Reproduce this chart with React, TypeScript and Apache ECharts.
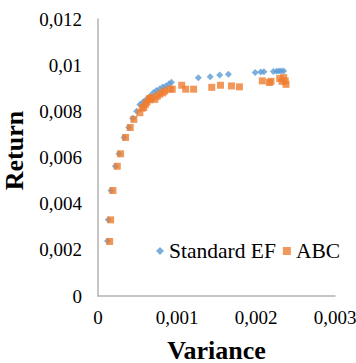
import React, { useEffect, useRef } from "react";
import * as echarts from "echarts";

const xTicks = [0, 0.001, 0.002, 0.003];
const yTicks = [0, 0.002, 0.004, 0.006, 0.008, 0.01, 0.012];

const efVariance = [
  0.00012, 0.00013, 0.000165, 0.00022, 0.000265, 0.00033, 0.00039, 0.00044, 0.00049,
  0.00053, 0.00057, 0.00061, 0.00066, 0.0007, 0.00074, 0.00078, 0.00082, 0.00086, 0.0009,
  0.00093, 0.00127, 0.00142, 0.00154, 0.00165, 0.00199, 0.00206, 0.0021, 0.00222, 0.00226,
  0.00229, 0.00232, 0.00235,
];
const efReturn = [
  0.00238, 0.0033, 0.00457, 0.00562, 0.00616, 0.00687, 0.0073, 0.0077, 0.008,
  0.0083, 0.0084, 0.0085, 0.00865, 0.0088, 0.0089, 0.00897, 0.00905, 0.0091, 0.0092,
  0.00926, 0.00946, 0.0095, 0.00957, 0.00961, 0.00968, 0.0097, 0.00971, 0.00973, 0.00974,
  0.00975, 0.00975, 0.00975,
];

const abcVariance = [
  0.000148, 0.00016, 0.000189, 0.000244, 0.000286, 0.000349, 0.000408, 0.000454, 0.00053, 0.00056,
  0.00058, 0.0006, 0.00062, 0.00065, 0.00066, 0.00068, 0.00072, 0.00075, 0.00078, 0.00082,
  0.000845, 0.00091, 0.00094, 0.00106, 0.00111, 0.00121, 0.00144, 0.00155, 0.00169, 0.00179,
  0.00208, 0.00217, 0.00219, 0.0023, 0.00233, 0.00235, 0.00237, 0.00238,
];
const abcReturn = [
  0.00236, 0.0033, 0.00457, 0.00562, 0.00616, 0.00687, 0.0073, 0.00765, 0.00794, 0.00814,
  0.00817, 0.0083, 0.0084, 0.00855, 0.0085, 0.0086, 0.00852, 0.00865, 0.00874, 0.0088,
  0.00888, 0.00896, 0.00896, 0.00913, 0.00896, 0.00896, 0.00904, 0.00913, 0.0091, 0.00906,
  0.00932, 0.00925, 0.0093, 0.00942, 0.0093, 0.00946, 0.00932, 0.00917,
];

const FONT = "Liberation Serif";

const fmt = (v: number) =>
  v === 0 ? "0" : String(parseFloat(v.toFixed(6))).replace(".", ",");

export default function App() {
  const ref = useRef<HTMLDivElement>(null);
  useEffect(() => {
    if (!ref.current) return;
    const chart = echarts.init(ref.current, null, { renderer: "svg", width: 356, height: 363 });
    chart.setOption({
      animation: false,
      backgroundColor: "#fff",
      grid: { left: 98, right: 21, top: 19, bottom: 67, outerBoundsMode: "none", containLabel: false },
      legend: {
        left: 151,
        top: 235,
        itemWidth: 8,
        itemHeight: 8,
        itemGap: 7,
        textStyle: { fontFamily: FONT, fontSize: 21.5, color: "#000" },
        data: [
          { name: "Standard EF", icon: "diamond" },
          { name: "ABC", icon: "rect" },
        ],
      },
      xAxis: {
        type: "value",
        min: xTicks[0],
        max: xTicks[xTicks.length - 1],
        interval: 0.001,
        name: "Variance",
        nameLocation: "middle",
        nameGap: 41,
        nameMoveOverlap: false,
        nameTextStyle: { fontFamily: FONT, fontSize: 26, fontWeight: "bold", color: "#000" },
        axisLine: { show: true, lineStyle: { color: "#b3b3b3", width: 1.5 } },
        axisTick: { show: false },
        splitLine: { show: false },
        axisLabel: { fontFamily: FONT, fontSize: 19, color: "#000", margin: 12, formatter: fmt },
      },
      yAxis: {
        type: "value",
        min: yTicks[0],
        max: yTicks[yTicks.length - 1],
        interval: 0.002,
        name: "Return",
        nameLocation: "middle",
        nameGap: 71,
        nameMoveOverlap: false,
        nameTextStyle: {
          fontFamily: FONT,
          fontSize: 26,
          fontWeight: "bold",
          color: "#000",
          padding: [0, 0, 0, 14],
        },
        axisLine: { show: true, lineStyle: { color: "#b3b3b3", width: 1.5 } },
        axisTick: { show: false },
        splitLine: { show: false },
        axisLabel: { fontFamily: FONT, fontSize: 19, color: "#000", margin: 16, formatter: fmt },
      },
      series: [
        {
          name: "Standard EF",
          type: "scatter",
          symbol: "diamond",
          symbolSize: 7,
          itemStyle: { color: "#5B9BD5" },
          data: efVariance.map((x, i) => [x, efReturn[i]]),
        },
        {
          name: "ABC",
          type: "scatter",
          symbol: "rect",
          symbolSize: 7,
          itemStyle: { color: "#ED7D31" },
          data: abcVariance.map((x, i) => [x, abcReturn[i]]),
        },
      ],
    });
    return () => chart.dispose();
  }, []);
  return (
    <div
      ref={ref}
      style={{ position: "fixed", left: 0, top: 0, width: 356, height: 363 }}
    />
  );
}
